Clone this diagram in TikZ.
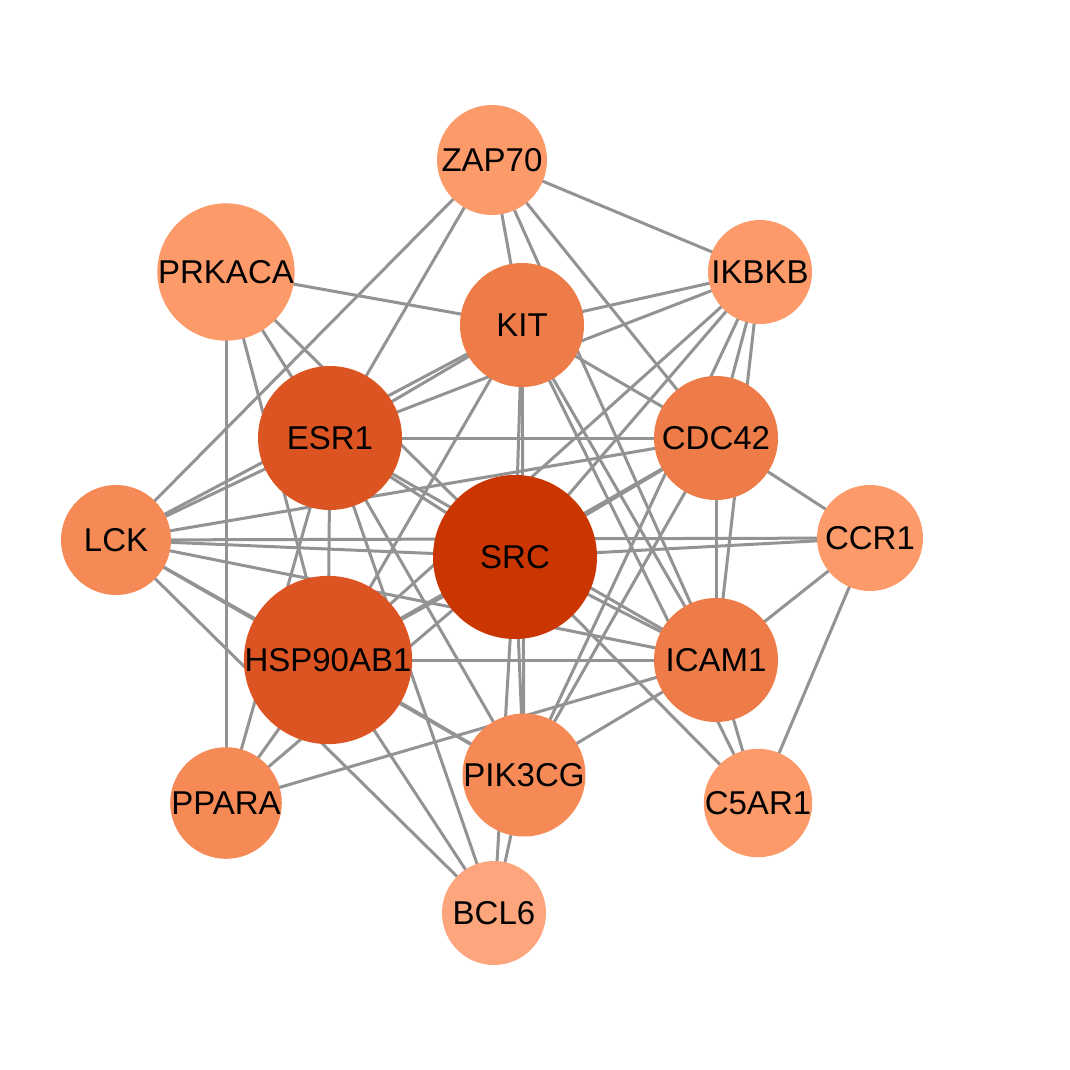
\documentclass[tikz,border=0pt]{standalone}
\usepackage{fontspec}
\setmainfont{Liberation Sans}
\begin{document}
\begin{tikzpicture}[x=1pt,y=-1pt,
 n/.style={circle,inner sep=0pt,minimum size=#1,font=\fontsize{33}{33}\selectfont},
 e/.style={draw=gray!85,line width=3pt}]
\useasboundingbox (0,0) rectangle (1070,1070);
\definecolor{c1}{HTML}{FC9A6A}\definecolor{c2}{HTML}{F68A57}\definecolor{c3}{HTML}{EE7C48}
\definecolor{c4}{HTML}{DD5423}\definecolor{c5}{HTML}{CB3500}\definecolor{c0}{HTML}{FDA57C}
\coordinate (ZAP70) at (492,160); \coordinate (PRKACA) at (226,272);
\coordinate (IKBKB) at (760,272); \coordinate (KIT) at (522,325);
\coordinate (ESR1) at (330,438); \coordinate (CDC42) at (716,438);
\coordinate (LCK) at (116,540); \coordinate (SRC) at (515,557);
\coordinate (CCR1) at (870,538); \coordinate (HSP) at (328,660);
\coordinate (ICAM1) at (716,660); \coordinate (PPARA) at (226,803);
\coordinate (PIK) at (524,775); \coordinate (C5AR1) at (758,803);
\coordinate (BCL6) at (494,913);
\foreach \a/\b in {ZAP70/KIT,ZAP70/IKBKB,ZAP70/ESR1,ZAP70/LCK,ZAP70/CDC42,ZAP70/ICAM1,
 PRKACA/PPARA,PRKACA/ESR1,PRKACA/KIT,PRKACA/SRC,PRKACA/HSP,
 IKBKB/KIT,IKBKB/CDC42,IKBKB/ICAM1,IKBKB/SRC,IKBKB/HSP,IKBKB/PIK,IKBKB/ESR1,
 KIT/ESR1,KIT/SRC,KIT/CDC42,KIT/ICAM1,KIT/HSP,KIT/LCK,KIT/PIK,KIT/C5AR1,
 ESR1/CDC42,ESR1/SRC,ESR1/LCK,ESR1/HSP,ESR1/PPARA,ESR1/BCL6,ESR1/PIK,ESR1/ICAM1,
 CDC42/SRC,CDC42/LCK,CDC42/CCR1,CDC42/ICAM1,CDC42/HSP,CDC42/PIK,
 LCK/SRC,LCK/HSP,LCK/ICAM1,LCK/PIK,LCK/CCR1,
 SRC/HSP,SRC/ICAM1,SRC/PIK,SRC/PPARA,SRC/CCR1,SRC/C5AR1,SRC/BCL6,
 CCR1/ICAM1,CCR1/C5AR1,HSP/PPARA,HSP/PIK,HSP/BCL6,HSP/ICAM1,
 ICAM1/PIK,ICAM1/C5AR1,ICAM1/PPARA,PIK/BCL6,LCK/BCL6}
 \draw[e] (\a) -- (\b);
\node[n=110,fill=c1] (nZAP70) at (ZAP70) {ZAP70};
\node[n=104,fill=c1] (nPRKACA) at (PRKACA) {PRKACA};
\node[n=104,fill=c1] (nIKBKB) at (IKBKB) {IKBKB};
\node[n=124,fill=c3] (nKIT) at (KIT) {KIT};
\node[n=144,fill=c4] (nESR1) at (ESR1) {ESR1};
\node[n=124,fill=c3] (nCDC42) at (CDC42) {CDC42};
\node[n=110,fill=c2] (nLCK) at (LCK) {LCK};
\node[n=164,fill=c5] (nSRC) at (SRC) {SRC};
\node[n=106,fill=c1] (nCCR1) at (CCR1) {CCR1};
\node[n=144,fill=c4] (nHSP) at (HSP) {HSP90AB1};
\node[n=124,fill=c3] (nICAM1) at (ICAM1) {ICAM1};
\node[n=104,fill=c2] (nPPARA) at (PPARA) {PPARA};
\node[n=110,fill=c2] (nPIK) at (PIK) {PIK3CG};
\node[n=104,fill=c1] (nC5AR1) at (C5AR1) {C5AR1};
\node[n=104,fill=c0] (nBCL6) at (BCL6) {BCL6};
\end{tikzpicture}
\end{document}
